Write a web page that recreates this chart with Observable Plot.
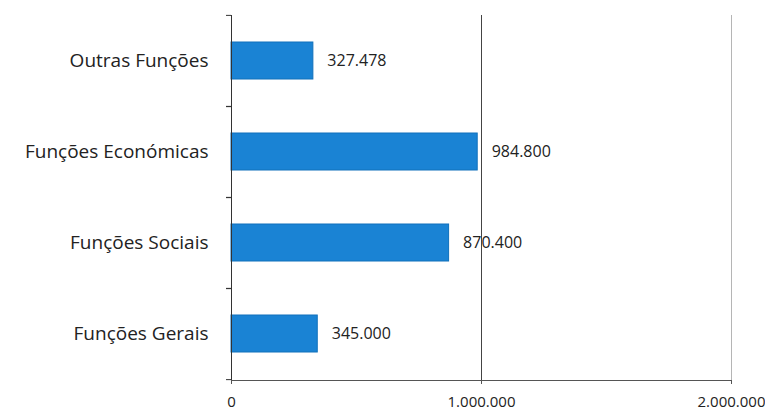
<!DOCTYPE html>
<html><head><meta charset="utf-8">
<script src="https://cdn.jsdelivr.net/npm/d3@7"></script>
<script src="https://cdn.jsdelivr.net/npm/@observablehq/plot@0.6"></script>
<style>body{margin:0;background:#fff;font-family:"Open Sans",sans-serif}</style>
</head><body><div id="chart"></div>
<script>
const categories = ["Outras Funções","Funções Económicas","Funções Sociais","Funções Gerais"];
const values = [327478, 984800, 870400, 345000];
const xTicks = [0, 1000000, 2000000];

const data = categories.map((c,i)=>({cat:c, value:values[i]}));
const loc = d3.formatLocale({decimal:",", thousands:".", grouping:[3], currency:["",""]});
const fmt = loc.format(",d");

const H = 416, MT = 15, MB = 36;
const halfStep = (H - MT - MB) / categories.length / 2;

const chart = Plot.plot({
  width: 765, height: H,
  marginLeft: 231, marginRight: 34, marginTop: MT, marginBottom: MB,
  style: {fontFamily: "Open Sans, sans-serif", background: "#fff"},
  x: {domain: [0, 2000000], label: null},
  y: {domain: categories, label: null, paddingInner: 0.59, paddingOuter: 0.295},
  marks: [
    Plot.ruleX([1000000], {stroke: "#444", strokeWidth: 1}),
    Plot.ruleX([2000000], {stroke: "#b5b5b5", strokeWidth: 1}),
    Plot.barX(data, {y: "cat", x: "value", fill: "#1a83d4", stroke: "#1070bb", strokeWidth: 1}),
    Plot.text(data, {y: "cat", x: "value", text: d=>fmt(d.value), textAnchor: "start", dx: 14, fontSize: 16, fill: "#222"}),
    Plot.axisY({fontSize: 19, tickSize: 0, tickPadding: 23, fill: "#222"}),
    Plot.axisY({text: null, tickSize: 5, dy: -halfStep, stroke: "#333"}),
    Plot.axisY({text: null, tickSize: 5, dy: halfStep, stroke: "#333"}),
    Plot.axisX({ticks: xTicks, tickFormat: fmt, fontSize: 15, tickSize: 4, tickPadding: 12, fill: "#222", stroke: "#555"}),
    Plot.ruleX([0], {stroke: "#333"}),
    Plot.frame({anchor: "bottom", stroke: "#555"})
  ]
});
document.getElementById("chart").append(chart);
</script></body></html>
